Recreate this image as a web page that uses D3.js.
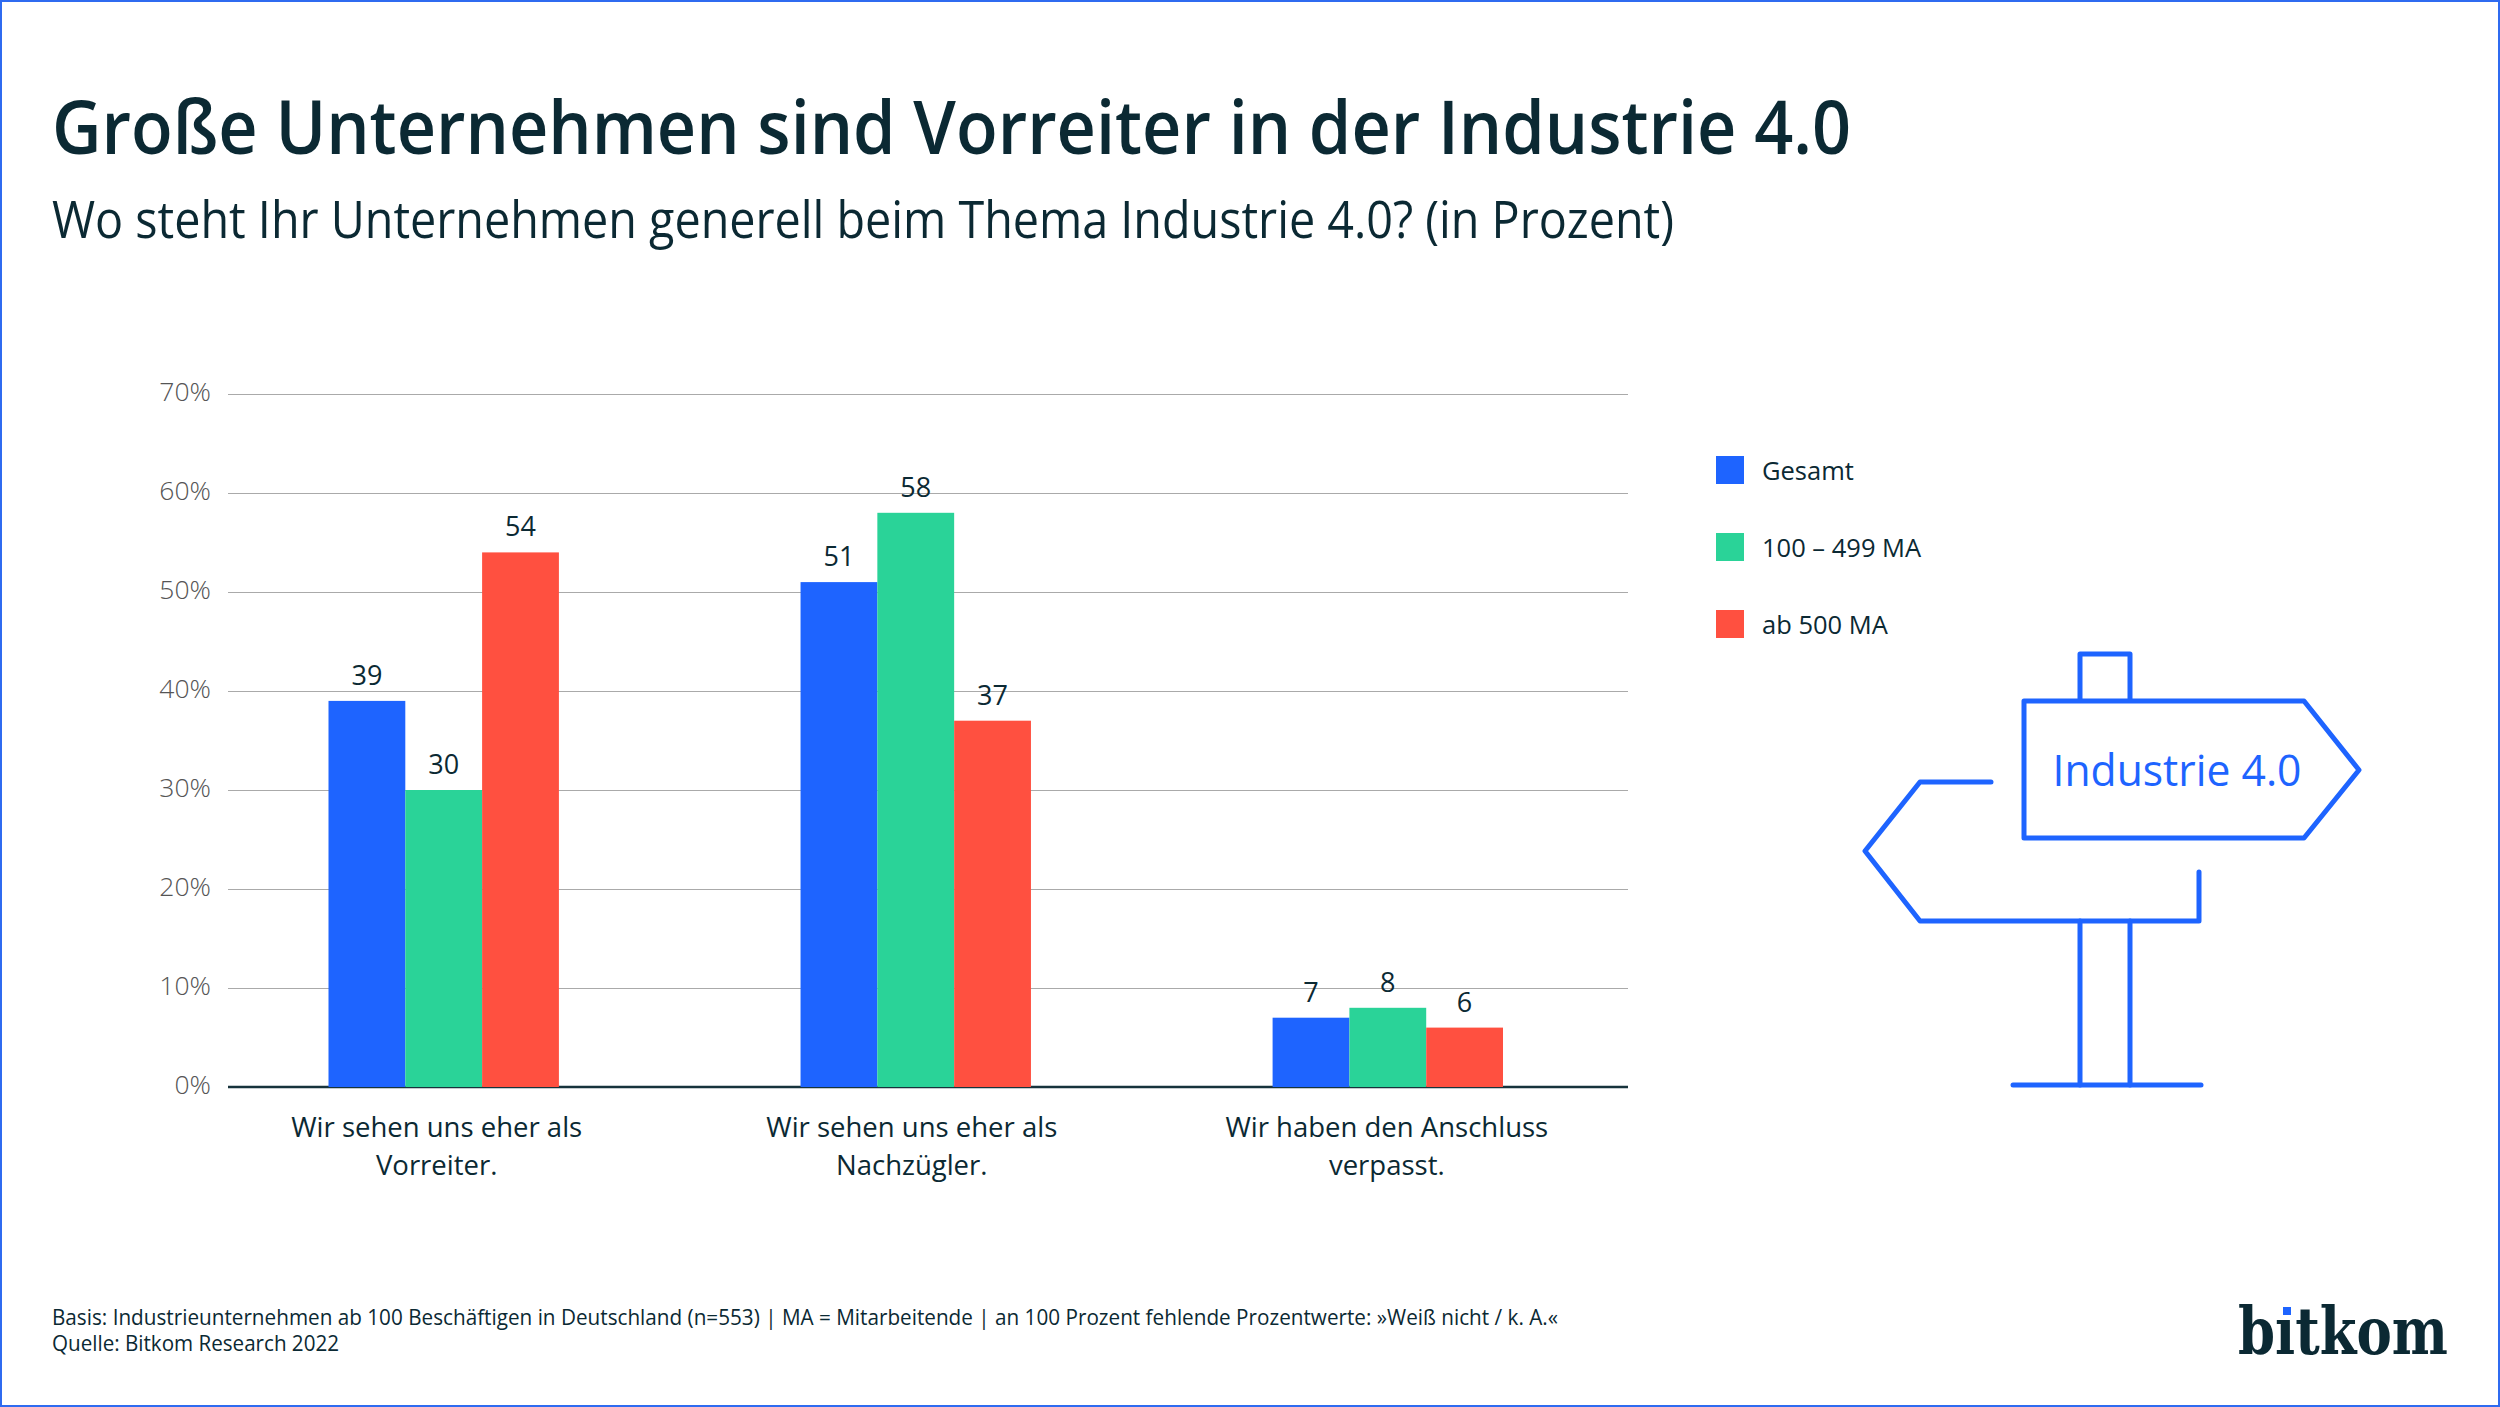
<!DOCTYPE html>
<html lang="de">
<head>
<meta charset="utf-8">
<title>Große Unternehmen sind Vorreiter in der Industrie 4.0</title>
<script src="https://cdn.jsdelivr.net/npm/d3@7/dist/d3.min.js"></script>
<style>
  html, body { margin: 0; padding: 0; background: #fff; }
  svg { display: block; font-family: "Open Sans", "Noto Sans", sans-serif; }
</style>
</head>
<body>
<div id="chart"></div>
<script>
const categories = ['Vorreiter', 'Nachzügler', 'Anschluss'];
const categoryLines = [
  ['Wir sehen uns eher als', 'Vorreiter.'],
  ['Wir sehen uns eher als', 'Nachzügler.'],
  ['Wir haben den Anschluss', 'verpasst.'],
];
const seriesNames = ['Gesamt', '100 – 499 MA', 'ab 500 MA'];
const gesamt = [39, 51, 7];
const mittel = [30, 58, 8];
const gross = [54, 37, 6];
const yTicks = [0, 10, 20, 30, 40, 50, 60, 70];
const colors = ['#1e64ff', '#2ad398', '#ff5040'];

const DARK = '#0b2933';
const W = 2500;
const H = 1407;

const seriesValues = [gesamt, mittel, gross];
const rows = categories.map((c, i) => ({
  category: c,
  lines: categoryLines[i],
  values: seriesNames.map((s, j) => ({ series: s, value: seriesValues[j][i] })),
}));

const svg = d3.select('#chart').append('svg')
  .attr('width', W)
  .attr('height', H)
  .attr('viewBox', `0 0 ${W} ${H}`);

svg.append('rect')
  .attr('x', 1).attr('y', 1)
  .attr('width', W - 2).attr('height', H - 2)
  .attr('fill', '#fff')
  .attr('stroke', '#2f6bf0')
  .attr('stroke-width', 2);

// headings, squeezed to the measured width because the original face is narrower
function fitted(x, y, size, width, weight, fill, str) {
  return svg.append('text')
    .attr('x', x).attr('y', y)
    .attr('font-size', size)
    .attr('font-weight', weight)
    .attr('fill', fill)
    .attr('textLength', width)
    .attr('lengthAdjust', 'spacingAndGlyphs')
    .text(str);
}

fitted(52, 154, 75, 1799, 600, DARK, 'Große Unternehmen sind Vorreiter in der Industrie 4.0');
fitted(52, 238, 51, 1622, 400, DARK, 'Wo steht Ihr Unternehmen generell beim Thema Industrie 4.0? (in Prozent)');
fitted(52, 1325, 21, 1506, 400, DARK, 'Basis: Industrieunternehmen ab 100 Beschäftigen in Deutschland (n=553) | MA = Mitarbeitende | an 100 Prozent fehlende Prozentwerte: »Weiß nicht / k. A.«');
fitted(52, 1351, 21, 287, 400, DARK, 'Quelle: Bitkom Research 2022');

// scales
const axisLeft = 228;
const axisRight = 1628;
const y = d3.scaleLinear().domain([0, 70]).range([1087, 394]);
const x0 = d3.scaleBand().domain(categories).range([328.5, 1503]).paddingInner(0.5119);
const x1 = d3.scaleBand().domain(seriesNames).range([0, x0.bandwidth()]);
const color = d3.scaleOrdinal().domain(seriesNames).range(colors);

// y axis with gridlines
svg.append('g')
  .attr('transform', `translate(${axisLeft},0)`)
  .call(d3.axisLeft(y).tickValues(yTicks).tickFormat(d => `${d}%`).tickSize(-(axisRight - axisLeft)).tickPadding(17))
  .call(g => g.select('.domain').remove())
  .call(g => g.selectAll('.tick line').attr('stroke', '#aaaaaa').attr('stroke-width', 1.2))
  .call(g => g.selectAll('.tick text')
    .attr('y', -1.5)
    .attr('fill', '#555555')
    .attr('font-size', 26.5)
    .attr('font-weight', 300)
    .attr('font-family', '"Open Sans", sans-serif'));

// baseline sits under the bars, only its lower edge shows through
svg.append('line')
  .attr('x1', axisLeft).attr('x2', axisRight)
  .attr('y1', y(0)).attr('y2', y(0))
  .attr('stroke', '#17333c')
  .attr('stroke-width', 2.5);

// bars
const groups = svg.selectAll('.group')
  .data(rows)
  .join('g')
  .attr('class', 'group')
  .attr('transform', d => `translate(${x0(d.category)},0)`);

groups.selectAll('rect')
  .data(d => d.values)
  .join('rect')
  .attr('x', d => x1(d.series))
  .attr('y', d => y(d.value))
  .attr('width', x1.bandwidth())
  .attr('height', d => y(0) - y(d.value))
  .attr('fill', d => color(d.series));

groups.selectAll('.value')
  .data(d => d.values)
  .join('text')
  .attr('class', 'value')
  .attr('x', d => x1(d.series) + x1.bandwidth() / 2)
  .attr('y', d => y(d.value) - 16)
  .attr('text-anchor', 'middle')
  .attr('font-size', 27)
  .attr('fill', DARK)
  .text(d => d.value);

// category labels
const labelShift = [-7, -4, -1];
const labels = svg.selectAll('.cat')
  .data(rows)
  .join('text')
  .attr('class', 'cat')
  .attr('text-anchor', 'middle')
  .attr('font-size', 27.5)
  .attr('fill', DARK);

labels.selectAll('tspan')
  .data((d, i) => d.lines.map(line => ({ line, cx: x0(d.category) + x0.bandwidth() / 2 + labelShift[i] })))
  .join('tspan')
  .attr('x', d => d.cx)
  .attr('y', (d, i) => 1137 + i * 38)
  .text(d => d.line);

// legend
const legend = svg.selectAll('.legend')
  .data(seriesNames)
  .join('g')
  .attr('class', 'legend')
  .attr('transform', (d, i) => `translate(1716,${456 + i * 77})`);

legend.append('rect')
  .attr('width', 28)
  .attr('height', 28)
  .attr('fill', d => color(d));

legend.append('text')
  .attr('x', 46)
  .attr('y', 24)
  .attr('font-size', 25.5)
  .attr('fill', DARK)
  .text(d => d);

// signpost icon
const signpost = svg.append('g')
  .attr('fill', 'none')
  .attr('stroke', colors[0])
  .attr('stroke-width', 5)
  .attr('stroke-linejoin', 'round')
  .attr('stroke-linecap', 'round');

[
  'M2080,700V654H2130V700',
  'M2024,701H2304L2359,770L2304,838H2024Z',
  'M1991,782H1920L1865,851L1920,921H2199V872',
  'M2080,921V1085',
  'M2130,921V1085',
  'M2013,1085H2201',
].forEach(d => signpost.append('path').attr('d', d));

svg.append('text')
  .attr('x', 2177)
  .attr('y', 786)
  .attr('text-anchor', 'middle')
  .attr('font-size', 44)
  .attr('fill', colors[0])
  .attr('textLength', 249)
  .attr('lengthAdjust', 'spacingAndGlyphs')
  .text('Industrie 4.0');

// logo, the dot of the i is swapped for the blue square
svg.append('text')
  .attr('x', 2238)
  .attr('y', 1354)
  .attr('font-family', '"DejaVu Serif", serif')
  .attr('font-weight', 700)
  .attr('font-size', 66)
  .attr('fill', DARK)
  .attr('textLength', 210)
  .attr('lengthAdjust', 'spacingAndGlyphs')
  .text('bitkom');

svg.append('rect')
  .attr('x', 2274).attr('y', 1298)
  .attr('width', 20).attr('height', 19)
  .attr('fill', '#fff');

svg.append('rect')
  .attr('x', 2283).attr('y', 1307)
  .attr('width', 8).attr('height', 8)
  .attr('fill', colors[0]);
</script>
</body>
</html>
